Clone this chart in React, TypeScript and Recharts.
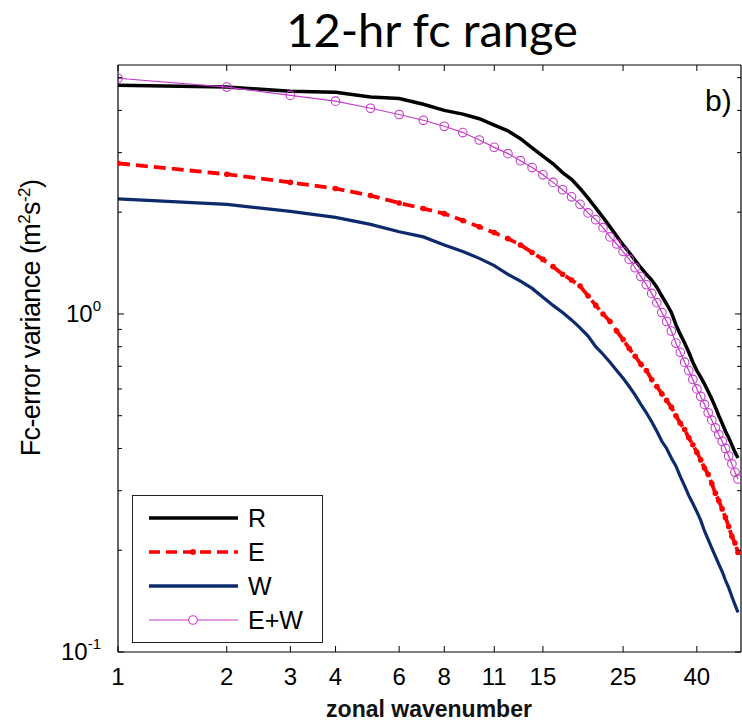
import React from "react";
import { LineChart, Line, XAxis, YAxis } from "recharts";

const wavenumbers = [
  1, 2, 3, 4, 5, 6, 7, 8, 9, 10, 11, 12, 13, 14, 15, 16, 17, 18, 19, 20, 21, 22, 23, 24, 25, 26,
  27, 28, 29, 30, 31, 32, 33, 34, 35, 36, 37, 38, 39, 40, 41, 42, 43, 44, 45, 46, 47, 48, 49, 50, 51, 52,
];

// R
const seriesR = [
  4.75, 4.69, 4.56, 4.53, 4.38, 4.34, 4.17, 4.0, 3.9, 3.78, 3.62, 3.48, 3.3, 3.1, 2.93, 2.78, 2.62,
  2.5, 2.35, 2.2, 2.06, 1.93, 1.81, 1.7, 1.6, 1.52, 1.44, 1.37, 1.31, 1.26, 1.2, 1.13, 1.07, 1.01,
  0.93, 0.87, 0.82, 0.77, 0.72, 0.68, 0.65, 0.62, 0.59, 0.56, 0.53, 0.5, 0.475, 0.45, 0.43, 0.41,
  0.39, 0.375,
];

// E
const seriesE = [
  2.79, 2.59, 2.45, 2.35, 2.24, 2.13, 2.05, 1.98, 1.89, 1.81, 1.74, 1.67, 1.6, 1.52, 1.45, 1.38,
  1.31, 1.26, 1.21, 1.13, 1.06, 1.0, 0.95, 0.89, 0.84, 0.79, 0.75, 0.71, 0.68, 0.64, 0.61, 0.58,
  0.555, 0.53, 0.5, 0.475, 0.455, 0.43, 0.41, 0.39, 0.37, 0.35, 0.335, 0.315, 0.295, 0.28, 0.265,
  0.25, 0.235, 0.22, 0.21, 0.197,
];

// W
const seriesW = [
  2.19, 2.11, 2.01, 1.93, 1.84, 1.75, 1.69, 1.6, 1.53, 1.46, 1.39, 1.31, 1.25, 1.19, 1.12, 1.06,
  1.01, 0.96, 0.91, 0.86, 0.8, 0.76, 0.72, 0.68, 0.645, 0.61, 0.575, 0.54, 0.51, 0.48, 0.45, 0.42,
  0.4, 0.375, 0.355, 0.33, 0.31, 0.29, 0.275, 0.26, 0.245, 0.228, 0.215, 0.203, 0.192, 0.182,
  0.173, 0.163, 0.155, 0.146, 0.138, 0.131,
];

// E+W
const seriesEW = [
  4.98, 4.69, 4.43, 4.26, 4.06, 3.89, 3.74, 3.59, 3.44, 3.27, 3.11, 2.98, 2.84, 2.71, 2.58, 2.45,
  2.33, 2.22, 2.11, 1.99, 1.9, 1.8, 1.69, 1.61, 1.53, 1.45, 1.37, 1.29, 1.22, 1.15, 1.08, 1.01,
  0.95, 0.89, 0.82, 0.77, 0.72, 0.68, 0.64, 0.6, 0.57, 0.54, 0.51, 0.485, 0.46, 0.44, 0.42, 0.4,
  0.38, 0.36, 0.34, 0.325,
];

const xTicks = [1, 2, 3, 4, 6, 8, 11, 15, 25, 40];
const yTicks = [0.1, 0.2, 0.3, 0.4, 0.5, 0.6, 0.7, 0.8, 0.9, 1, 2, 3, 4, 5];
const yDecades = [0.1, 1];
const yExponents = ["-1", "0"];

const FONT = "'Liberation Sans', Arial, Helvetica, sans-serif";
const BLACK = "#000000";
const RED = "#ff0000";
const NAVY = "#0d2a6c";
const MAGENTA = "#c63ccc";

const rows = wavenumbers.map((k, i) => ({
  k,
  R: seriesR[i],
  E: seriesE[i],
  W: seriesW[i],
  EW: seriesEW[i],
}));

function XTick({ x, y, payload, top }: any) {
  const dir = top ? 1 : -1;
  return (
    <g>
      <line x1={x} x2={x} y1={y} y2={y + dir * 6} stroke="#000" strokeWidth={1} />
      {!top && (
        <text x={x} y={y + 33} textAnchor="middle" fontSize={24} fontFamily={FONT} fill="#000">
          {payload.value}
        </text>
      )}
    </g>
  );
}

function YTick({ x, y, payload, right }: any) {
  const dir = right ? -1 : 1;
  const idx = yDecades.indexOf(payload.value);
  const len = idx >= 0 ? 6 : 4;
  return (
    <g>
      <line x1={x} x2={x + dir * len} y1={y} y2={y} stroke="#000" strokeWidth={1} />
      {!right && idx >= 0 && (
        <text x={x - 17} y={y + 8} textAnchor="end" fontFamily={FONT} fill="#000">
          <tspan fontSize={24}>10</tspan>
          <tspan fontSize={15} dy={-11}>
            {yExponents[idx]}
          </tspan>
        </text>
      )}
    </g>
  );
}

function EDot({ cx, cy }: any) {
  return <circle cx={cx} cy={cy} r={2.8} fill={RED} stroke="none" />;
}

function EWDot({ cx, cy }: any) {
  return <circle cx={cx} cy={cy} r={4.3} fill="none" stroke={MAGENTA} strokeWidth={1.1} />;
}

const LEGEND = [
  { label: "R", color: BLACK, width: 3.5, dash: undefined, marker: null },
  { label: "E", color: RED, width: 3.5, dash: "11 6", marker: "dot" },
  { label: "W", color: NAVY, width: 3.5, dash: undefined, marker: null },
  { label: "E+W", color: MAGENTA, width: 1.2, dash: undefined, marker: "circle" },
];

function LegendBox() {
  return (
    <div
      style={{
        position: "absolute",
        left: 132,
        top: 495,
        width: 189,
        height: 146,
        border: "1px solid #222",
        background: "#fff",
      }}
    >
      {LEGEND.map((e, i) => (
        <div
          key={e.label}
          style={{ position: "absolute", left: 0, top: 5 + i * 34, height: 34, display: "flex", alignItems: "center" }}
        >
          <svg width={110} height={34}>
            <line x1={16} x2={105} y1={17} y2={17} stroke={e.color} strokeWidth={e.width} strokeDasharray={e.dash} />
            {e.marker === "dot" && <circle cx={60} cy={17} r={3} fill={RED} />}
            {e.marker === "circle" && <circle cx={60} cy={17} r={4.3} fill="#fff" stroke={MAGENTA} strokeWidth={1.1} />}
          </svg>
          <span style={{ fontFamily: FONT, fontSize: 25, marginLeft: 5, color: "#000" }}>{e.label}</span>
        </div>
      ))}
    </div>
  );
}

export default function App() {
  return (
    <div style={{ position: "absolute", left: 0, top: 0, width: 742, height: 721, background: "#fff" }}>
      <div
        style={{
          position: "absolute",
          left: 0,
          width: 742,
          top: 1,
          textAlign: "center",
          paddingLeft: 122,
          boxSizing: "border-box",
          fontFamily: "Lato, 'Open Sans', sans-serif",
          fontSize: 47,
          color: "#000",
        }}
      >
        12-hr fc range
      </div>

      <LineChart width={742} height={721} data={rows} margin={{ top: 64, right: 0, bottom: 9, left: 58 }}>
        <XAxis
          dataKey="k"
          type="number"
          scale="log"
          domain={[1, 53]}
          allowDataOverflow
          ticks={xTicks}
          interval={0}
          height={60}
          tickSize={0}
          tickMargin={0}
          tickLine={false}
          axisLine={{ stroke: "#000", strokeWidth: 1.2 }}
          tick={<XTick />}
        />
        <XAxis
          xAxisId="top"
          orientation="top"
          dataKey="k"
          type="number"
          scale="log"
          domain={[1, 53]}
          allowDataOverflow
          ticks={xTicks}
          interval={0}
          height={1}
          tickSize={0}
          tickMargin={0}
          tickLine={false}
          axisLine={{ stroke: "#000", strokeWidth: 1.2 }}
          tick={<XTick top />}
        />
        <YAxis
          type="number"
          scale="log"
          domain={[0.1, 5.45]}
          allowDataOverflow
          ticks={yTicks}
          interval={0}
          width={60}
          tickSize={0}
          tickMargin={0}
          tickLine={false}
          axisLine={{ stroke: "#000", strokeWidth: 1.2 }}
          tick={<YTick />}
        />
        <YAxis
          yAxisId="right"
          orientation="right"
          type="number"
          scale="log"
          domain={[0.1, 5.45]}
          allowDataOverflow
          ticks={yTicks}
          interval={0}
          width={1}
          tickSize={0}
          tickMargin={0}
          tickLine={false}
          axisLine={{ stroke: "#000", strokeWidth: 1.2 }}
          tick={<YTick right />}
        />
        <Line dataKey="R" stroke={BLACK} strokeWidth={3.5} dot={false} isAnimationActive={false} />
        <Line
          dataKey="E"
          stroke={RED}
          strokeWidth={3.8}
          strokeDasharray="12 6"
          dot={<EDot />}
          isAnimationActive={false}
        />
        <Line dataKey="W" stroke={NAVY} strokeWidth={3.2} dot={false} isAnimationActive={false} />
        <Line dataKey="EW" stroke={MAGENTA} strokeWidth={1.2} dot={<EWDot />} isAnimationActive={false} />
      </LineChart>

      <div
        style={{
          position: "absolute",
          left: 20,
          top: 318,
          transform: "translate(-50%, -50%) rotate(-90deg)",
          transformOrigin: "center",
          whiteSpace: "nowrap",
          fontFamily: FONT,
          fontSize: 27,
          marginLeft: 11,
          color: "#000",
          letterSpacing: -0.6,
        }}
      >
        Fc-error variance (m<sup style={{ fontSize: 17 }}>2</sup>s<sup style={{ fontSize: 17 }}>-2</sup>)
      </div>

      <div
        style={{
          position: "absolute",
          left: 0,
          width: 742,
          top: 696,
          paddingLeft: 116,
          boxSizing: "border-box",
          textAlign: "center",
          fontFamily: FONT,
          fontSize: 23,
          fontWeight: "bold",
          color: "#111",
        }}
      >
        zonal wavenumber
      </div>

      <div
        style={{ position: "absolute", left: 705, top: 84, fontFamily: FONT, fontSize: 30, color: "#000" }}
      >
        b)
      </div>

      <LegendBox />
    </div>
  );
}
